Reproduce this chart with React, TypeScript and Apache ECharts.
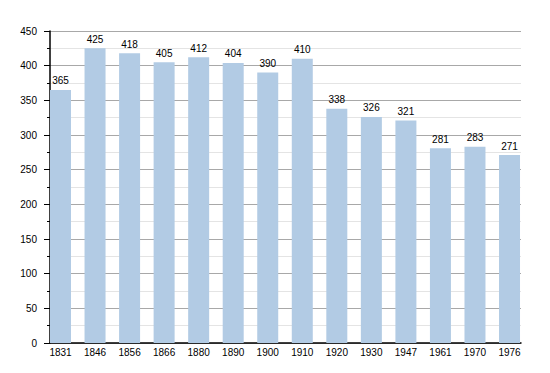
import React, { useEffect, useRef } from "react";
import * as echarts from "echarts";

const years = ["1831", "1846", "1856", "1866", "1880", "1890", "1900", "1910", "1920", "1930", "1947", "1961", "1970", "1976"];
const population = [365, 425, 418, 405, 412, 404, 390, 410, 338, 326, 321, 281, 283, 271];
const yMin = 0;
const yMax = 450;
const yInterval = 50;

const FONT = "'Liberation Sans', Arial, sans-serif";

export default function App() {
  const ref = useRef<HTMLDivElement>(null);
  useEffect(() => {
    if (!ref.current) return;
    const chart = echarts.init(ref.current, undefined, { renderer: "svg" });
    const step = 34.54;
    const firstCenter = 60.5;
    chart.setOption({
      animation: false,
      backgroundColor: "#ffffff",
      textStyle: { fontFamily: FONT },
      grid: [
        { left: 50, top: 31, width: 471, height: 312, containLabel: false },
        { left: firstCenter - step / 2, top: 31, width: step * years.length, height: 312, containLabel: false },
      ],
      xAxis: [
        {
          type: "category",
          gridIndex: 0,
          data: years,
          axisLine: { show: true, lineStyle: { color: "#000", width: 1.5 } },
          axisTick: { show: false },
          axisLabel: { show: false },
          splitLine: { show: false },
        },
        {
          type: "category",
          gridIndex: 1,
          data: years,
          boundaryGap: true,
          axisLine: { show: false },
          axisTick: { show: false },
          axisLabel: { show: true, color: "#000", fontSize: 10, margin: 4, fontFamily: FONT, interval: 0 },
          splitLine: { show: false },
        },
      ],
      yAxis: [
        {
          type: "value",
          gridIndex: 0,
          min: yMin,
          max: yMax,
          interval: yInterval,
          axisLine: { show: true, lineStyle: { color: "#000", width: 1.5 } },
          axisTick: { show: true, length: 6, lineStyle: { color: "#000" } },
          minorTick: { show: true, splitNumber: 2, length: 3, lineStyle: { color: "#000" } },
          axisLabel: { color: "#000", fontSize: 10, margin: 13, fontFamily: FONT },
          splitLine: { show: true, lineStyle: { color: "#a8a8a8", width: 1 } },
          minorSplitLine: { show: true, lineStyle: { color: "#e4e4e4", width: 1 } },
        },
        {
          type: "value",
          gridIndex: 1,
          min: yMin,
          max: yMax,
          interval: yInterval,
          show: false,
          splitLine: { show: false },
        },
      ],
      series: [
        {
          type: "bar",
          xAxisIndex: 1,
          yAxisIndex: 1,
          data: population,
          barWidth: 21,
          itemStyle: { color: "#b2cbe4" },
          label: {
            show: true,
            position: "top",
            distance: 4,
            color: "#000",
            fontSize: 10,
            fontFamily: FONT,
          },
          z: 2,
        },
      ],
    });
    return () => chart.dispose();
  }, []);
  return <div ref={ref} style={{ position: "fixed", left: 0, top: 0, width: 550, height: 373 }} />;
}
